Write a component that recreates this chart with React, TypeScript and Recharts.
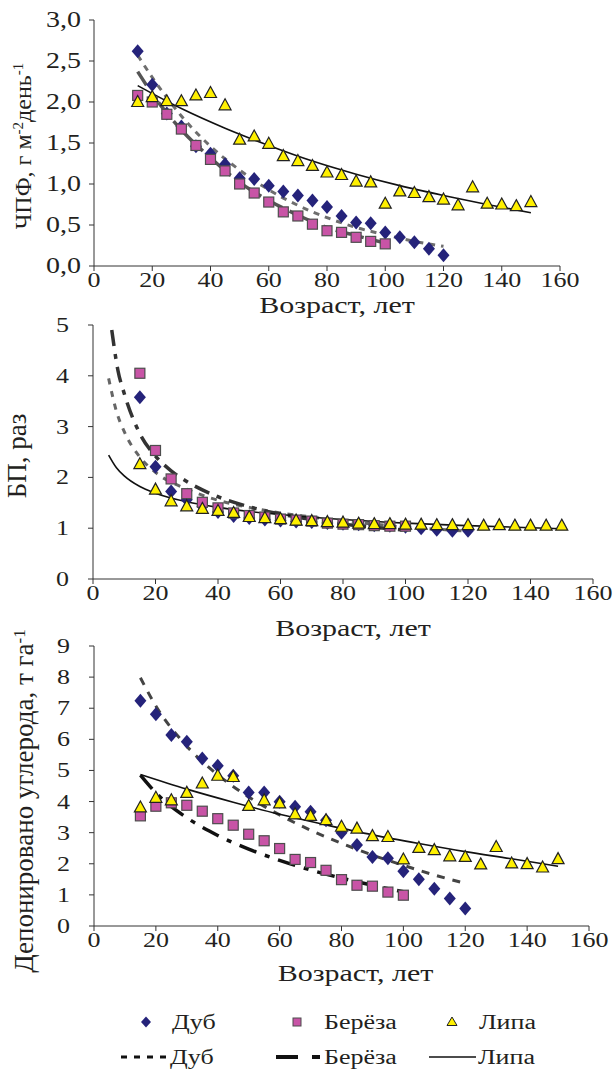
import React from "react";
import { ComposedChart, Scatter, Line, XAxis, YAxis } from "recharts";

const FONT = "'Liberation Serif', 'Times New Roman', serif";
const INK = "#231f20";

const ageTicks = [0, 20, 40, 60, 80, 100, 120, 140, 160];
const ageOak = [15, 20, 25, 30, 35, 40, 45, 50, 55, 60, 65, 70, 75, 80, 85, 90, 95, 100, 105, 110, 115, 120];
const ageBirch = [15, 20, 25, 30, 35, 40, 45, 50, 55, 60, 65, 70, 75, 80, 85, 90, 95, 100];
const ageLinden = [15, 20, 25, 30, 35, 40, 45, 50, 55, 60, 65, 70, 75, 80, 85, 90, 95, 100, 105, 110, 115, 120, 125, 130, 135, 140, 145, 150];

// ЧПФ
const npfTicks = [0, 0.5, 1, 1.5, 2, 2.5, 3];
const npfOak = [2.62, 2.21, 1.86, 1.70, 1.46, 1.37, 1.24, 1.07, 1.06, 0.98, 0.91, 0.86, 0.80, 0.72, 0.61, 0.53, 0.52, 0.41, 0.35, 0.29, 0.21, 0.13];
const npfBirch = [2.08, 2.00, 1.85, 1.67, 1.47, 1.30, 1.16, 1.00, 0.89, 0.78, 0.66, 0.61, 0.51, 0.43, 0.41, 0.35, 0.30, 0.27];
const npfLinden = [2.00, 2.06, 2.01, 2.01, 2.08, 2.11, 1.96, 1.54, 1.58, 1.49, 1.34, 1.28, 1.22, 1.14, 1.11, 1.03, 1.02, 0.76, 0.91, 0.89, 0.84, 0.81, 0.74, 0.96, 0.76, 0.75, 0.73, 0.78];
const npfOakTrendAge = [15, 20, 30, 40, 50, 60, 70, 80, 90, 100, 110, 120];
const npfOakTrend = [2.57, 2.30, 1.83, 1.46, 1.17, 0.93, 0.74, 0.59, 0.47, 0.38, 0.30, 0.24];
const npfBirchTrendAge = [15, 20, 30, 40, 50, 60, 70, 80, 90, 100];
const npfBirchTrend = [2.37, 2.10, 1.66, 1.32, 1.02, 0.80, 0.62, 0.47, 0.37, 0.28];
const npfLindenTrendAge = [15, 30, 45, 60, 75, 90, 105, 120, 135, 150];
const npfLindenTrend = [2.20, 1.92, 1.68, 1.47, 1.28, 1.12, 0.98, 0.86, 0.75, 0.65];

// БП
const bpTicks = [0, 1, 2, 3, 4, 5];
const bpOak = [3.58, 2.21, 1.72, 1.56, 1.43, 1.32, 1.24, 1.20, 1.17, 1.15, 1.13, 1.12, 1.10, 1.09, 1.08, 1.06, 1.05, 1.03, 1.00, 0.97, 0.95, 0.95];
const bpBirch = [4.05, 2.53, 1.97, 1.68, 1.51, 1.40, 1.30, 1.25, 1.22, 1.18, 1.16, 1.14, 1.10, 1.08, 1.07, 1.05, 1.04, 1.04];
const bpLinden = [2.26, 1.76, 1.53, 1.43, 1.38, 1.34, 1.30, 1.22, 1.20, 1.18, 1.15, 1.14, 1.12, 1.11, 1.09, 1.08, 1.08, 1.07, 1.07, 1.06, 1.06, 1.06, 1.05, 1.06, 1.05, 1.05, 1.05, 1.05];
const bpOakTrendAge = [5, 7.5, 10, 15, 20, 30, 40, 50, 60, 70, 80, 90, 100, 110, 120];
const bpOakTrend = [3.95, 3.30, 2.90, 2.40, 2.10, 1.77, 1.55, 1.41, 1.30, 1.22, 1.14, 1.08, 1.02, 0.98, 0.94];
const bpBirchTrendAge = [6, 8, 10, 15, 20, 25, 30, 40, 50, 60, 70, 80, 90, 100];
const bpBirchTrend = [4.90, 4.10, 3.65, 2.86, 2.42, 2.13, 1.92, 1.62, 1.42, 1.28, 1.17, 1.08, 1.02, 0.96];
const bpLindenTrendAge = [5, 7.5, 10, 15, 20, 30, 40, 50, 60, 80, 100, 120, 150];
const bpLindenTrend = [2.44, 2.19, 2.03, 1.82, 1.69, 1.52, 1.41, 1.33, 1.27, 1.17, 1.10, 1.05, 0.99];

// Депонировано углерода
const carbonTicks = [0, 1, 2, 3, 4, 5, 6, 7, 8, 9];
const carbonOak = [7.24, 6.81, 6.14, 5.92, 5.38, 5.15, 4.83, 4.29, 4.29, 3.99, 3.83, 3.67, 3.40, 3.00, 2.60, 2.22, 2.18, 1.76, 1.50, 1.20, 0.88, 0.56];
const carbonBirch = [3.54, 3.85, 3.96, 3.88, 3.69, 3.45, 3.24, 2.95, 2.74, 2.49, 2.14, 2.04, 1.79, 1.49, 1.31, 1.28, 1.09, 0.99];
const carbonLinden = [3.81, 4.12, 4.04, 4.28, 4.58, 4.83, 4.79, 3.86, 4.04, 3.94, 3.59, 3.54, 3.40, 3.19, 3.13, 2.89, 2.86, 2.14, 2.51, 2.44, 2.24, 2.22, 1.98, 2.54, 2.01, 1.99, 1.88, 2.15];
const carbonOakTrendAge = [15, 20, 30, 40, 50, 60, 70, 80, 90, 100, 110, 120];
const carbonOakTrend = [7.98, 7.07, 5.78, 4.86, 4.15, 3.57, 3.08, 2.66, 2.28, 1.95, 1.64, 1.37];
const carbonBirchTrendAge = [15, 20, 30, 40, 50, 60, 70, 80, 90, 100];
const carbonBirchTrend = [4.85, 4.28, 3.48, 2.91, 2.47, 2.11, 1.80, 1.54, 1.31, 1.10];
const carbonLindenTrendAge = [15, 30, 45, 60, 75, 90, 105, 120, 135, 150];
const carbonLindenTrend = [4.87, 4.40, 3.98, 3.59, 3.25, 2.93, 2.65, 2.39, 2.16, 1.92];

const pts = (xs: number[], ys: number[]) => xs.map((x, i) => ({ x, y: ys[i] }));

const OAK = "#25237a";
const BIRCH = "#c854a6";
const LINDEN = "#fff000";

const Diamond = (p: any) => (
  <polygon
    points={`${p.cx},${p.cy - 7} ${p.cx + 6},${p.cy} ${p.cx},${p.cy + 7} ${p.cx - 6},${p.cy}`}
    fill={OAK}
  />
);
const Square = (p: any) => (
  <rect x={p.cx - 5} y={p.cy - 5} width={10} height={10} fill={BIRCH} stroke="#4d4d4d" strokeWidth={1.2} />
);
const Triangle = (p: any) => (
  <polygon
    points={`${p.cx},${p.cy - 6.5} ${p.cx + 6},${p.cy + 4.5} ${p.cx - 6},${p.cy + 4.5}`}
    fill={LINDEN}
    stroke="#222"
    strokeWidth={1.2}
  />
);

const XTick = (p: any) => (
  <g transform={`translate(${p.x},${p.y + 14}) scale(1,0.8)`}>
    <text textAnchor="middle" fontFamily={FONT} fontSize={26} fill={INK}>
      {p.payload.value}
    </text>
  </g>
);

const makeYTick = (right: number, size: number, fmt: (v: number) => string) => (p: any) => (
  <g transform={`translate(${right},${p.y + 7}) scale(1,0.8)`}>
    <text textAnchor="end" fontFamily={FONT} fontSize={size} fill={INK}>
      {fmt(p.payload.value)}
    </text>
  </g>
);

const makeXTitle = (dy: number, dx: number) => (props: any) => {
  const { x, y, width } = props.viewBox;
  return (
    <g transform={`translate(${x + width / 2 + dx},${y + dy}) scale(1,0.8)`}>
      <text textAnchor="middle" fontFamily={FONT} fontSize={30} fill={INK}>
        Возраст, лет
      </text>
    </g>
  );
};

const makeYTitle = (bx: number, cy: number, size: number, content: React.ReactNode) => () => (
  <text
    transform={`translate(${bx},${cy}) rotate(-90)`}
    textAnchor="middle"
    fontFamily={FONT}
    fontSize={size}
    fill={INK}
  >
    {content}
  </text>
);

type P = { x: number; y: number };
type PanelProps = {
  top: number;
  height: number;
  margin: { top: number; right: number; left: number; bottom: number };
  yWidth: number;
  xHeight: number;
  yDomain: [number, number];
  yTicks: number[];
  yTick: (p: any) => React.ReactNode;
  xTitle: (props: any) => React.ReactNode;
  yTitle: () => React.ReactNode;
  oak: P[];
  birch: P[];
  linden: P[];
  oakTrend: P[];
  birchTrend: P[];
  lindenTrend: P[];
  oakDash: string;
  birchDash: string;
  oakColor: string;
  birchColor: string;
};

function Panel(p: PanelProps) {
  return (
    <div style={{ position: "absolute", left: 0, top: p.top }}>
      <ComposedChart width={616} height={p.height} margin={p.margin}>
        <XAxis
          type="number"
          dataKey="x"
          domain={[0, 160]}
          ticks={ageTicks}
          allowDataOverflow
          stroke="#333"
          tickSize={5}
          tick={<XTick />}
          height={p.xHeight}
          label={{ content: p.xTitle }}
        />
        <YAxis
          type="number"
          dataKey="y"
          domain={p.yDomain}
          ticks={p.yTicks}
          allowDataOverflow
          stroke="#333"
          tickSize={5}
          width={p.yWidth}
          tick={p.yTick}
          label={{ content: p.yTitle }}
        />
        <Scatter data={p.oak} shape={<Diamond />} isAnimationActive={false} />
        <Scatter data={p.birch} shape={<Square />} isAnimationActive={false} />
        <Scatter data={p.linden} shape={<Triangle />} isAnimationActive={false} />
        <Line data={p.oakTrend} dataKey="y" type="monotone" stroke={p.oakColor} strokeWidth={3} strokeDasharray={p.oakDash} dot={false} isAnimationActive={false} />
        <Line data={p.birchTrend} dataKey="y" type="monotone" stroke={p.birchColor} strokeWidth={3.5} strokeDasharray={p.birchDash} dot={false} isAnimationActive={false} />
        <Line data={p.lindenTrend} dataKey="y" type="monotone" stroke="#111" strokeWidth={1.6} dot={false} isAnimationActive={false} />
      </ComposedChart>
    </div>
  );
}

const comma = (v: number) => v.toFixed(1).replace(".", ",");
const plain = (v: number) => String(v);

const sup = (t: string, size: number) => (
  <tspan dy={-8} fontSize={size}>
    {t}
  </tspan>
);

function LegendBlock() {
  const txt = (x: number, y: number, s: string) => (
    <g transform={`translate(${x},${y}) scale(1,0.8)`}>
      <text fontFamily={FONT} fontSize={26} fill={INK}>
        {s}
      </text>
    </g>
  );
  return (
    <svg width={616} height={90} style={{ position: "absolute", left: 0, top: 990 }}>
      <polygon points="146,26.5 151,32 146,37.5 141,32" fill={OAK} />
      {txt(172, 39, "Дуб")}
      <rect x={293} y={28} width={8} height={8} fill={BIRCH} stroke="#4d4d4d" strokeWidth={1} />
      {txt(324, 39, "Берёза")}
      <polygon points="452,27 457,35.5 447,35.5" fill={LINDEN} stroke="#222" strokeWidth={1} />
      {txt(479, 39, "Липа")}

      <line x1={121} y1={67} x2={168} y2={67} stroke="#111" strokeWidth={3} strokeDasharray="6 7" />
      {txt(170, 74, "Дуб")}
      <line x1={276} y1={67} x2={320} y2={67} stroke="#111" strokeWidth={4} strokeDasharray="22 14 8 10" />
      {txt(324, 74, "Берёза")}
      <line x1={429} y1={67} x2={476} y2={67} stroke="#111" strokeWidth={1.5} />
      {txt(478, 74, "Липа")}
    </svg>
  );
}

export default function App() {
  return (
    <div style={{ position: "absolute", left: 0, top: 0, width: 616, height: 1073, background: "#fff" }}>
      <Panel
        top={0}
        height={330}
        margin={{ top: 20, right: 56, left: 0, bottom: 10 }}
        yWidth={94}
        xHeight={54}
        yDomain={[0, 3]}
        yTicks={npfTicks}
        yTick={makeYTick(81, 28, comma)}
        xTitle={makeXTitle(47, 10)}
        yTitle={makeYTitle(31, 146, 24, <>ЧПФ, г м{sup("-2", 15)}<tspan dy={8}>день</tspan>{sup("-1", 15)}</>)}
        oak={pts(ageOak, npfOak)}
        birch={pts(ageBirch, npfBirch)}
        linden={pts(ageLinden, npfLinden)}
        oakTrend={pts(npfOakTrendAge, npfOakTrend)}
        birchTrend={pts(npfBirchTrendAge, npfBirchTrend)}
        lindenTrend={pts(npfLindenTrendAge, npfLindenTrend)}
        oakDash="6 6"
        birchDash="16 8 5 8"
        oakColor="#6e6e6e"
        birchColor="#555"
      />
      <Panel
        top={300}
        height={350}
        margin={{ top: 25, right: 23, left: 0, bottom: 10 }}
        yWidth={93}
        xHeight={61}
        yDomain={[0, 5]}
        yTicks={bpTicks}
        yTick={makeYTick(69, 26, plain)}
        xTitle={makeXTitle(57, 10)}
        yTitle={makeYTitle(26, 156, 27, "БП, раз")}
        oak={pts(ageOak, bpOak)}
        birch={pts(ageBirch, bpBirch)}
        linden={pts(ageLinden, bpLinden)}
        oakTrend={pts(bpOakTrendAge, bpOakTrend)}
        birchTrend={pts(bpBirchTrendAge, bpBirchTrend)}
        lindenTrend={pts(bpLindenTrendAge, bpLindenTrend)}
        oakDash="6 7"
        birchDash="16 8 5 8"
        oakColor="#666"
        birchColor="#333"
      />
      <Panel
        top={630}
        height={400}
        margin={{ top: 16, right: 27, left: 0, bottom: 44 }}
        yWidth={94}
        xHeight={60}
        yDomain={[0, 9]}
        yTicks={carbonTicks}
        yTick={makeYTick(70, 26, plain)}
        xTitle={makeXTitle(55, 14)}
        yTitle={makeYTitle(33, 171, 27, <>Депонировано углерода, т га{sup("-1", 17)}</>)}
        oak={pts(ageOak, carbonOak)}
        birch={pts(ageBirch, carbonBirch)}
        linden={pts(ageLinden, carbonLinden)}
        oakTrend={pts(carbonOakTrendAge, carbonOakTrend)}
        birchTrend={pts(carbonBirchTrendAge, carbonBirchTrend)}
        lindenTrend={pts(carbonLindenTrendAge, carbonLindenTrend)}
        oakDash="8 8"
        birchDash="18 9 5 9"
        oakColor="#444"
        birchColor="#111"
      />
      <LegendBlock />
    </div>
  );
}
